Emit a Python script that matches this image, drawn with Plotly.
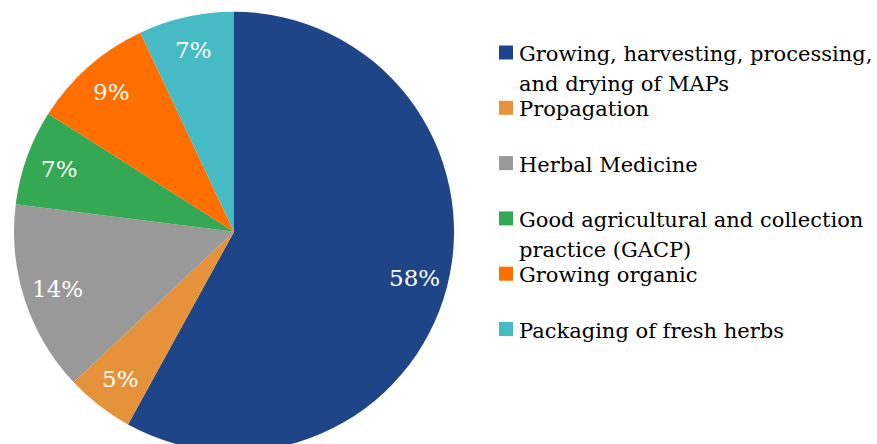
import math
import textwrap
import plotly.graph_objects as go

# Share of studies by topic (percent)
categories = [
    "Growing, harvesting, processing, and drying of MAPs",
    "Propagation",
    "Herbal Medicine",
    "Good agricultural and collection practice (GACP)",
    "Growing organic",
    "Packaging of fresh herbs",
]
shares = [58, 5, 14, 7, 9, 7]
colors = ["#1E4588", "#E5923A", "#999999", "#35A853", "#FF6F00", "#46BBC6"]

W, H = 877, 452
FONT = "DejaVu Serif"

# pie geometry in pixels
cx, cy, R = 234.0, 231.7, 220.0
dom_x = [(cx - R) / W, (cx + R) / W]
dom_y = [1 - (cy + R) / H, 1 - (cy - R) / H]

fig = go.Figure(
    go.Pie(
        labels=categories,
        values=shares,
        marker=dict(colors=colors, line=dict(width=0)),
        sort=False,
        direction="clockwise",
        rotation=0,
        textinfo="none",
        showlegend=False,
        domain=dict(x=dom_x, y=dom_y),
    )
)

annotations = []
shapes = []

# percentage labels at the middle angle of each slice
total = sum(shares)
cum = 0.0
for v in shares:
    mid = (cum + v / 2) / total * 2 * math.pi
    cum += v
    r = 0.845 * R
    px = cx + r * math.sin(mid)
    py = cy - r * math.cos(mid)
    annotations.append(dict(
        x=px / W, y=1 - py / H, xref="paper", yref="paper",
        text=f"{v}%", showarrow=False, xanchor="center", yanchor="middle",
        font=dict(family=FONT, size=23, color="white"),
    ))

# legend: colour squares with wrapped labels
sq = 14
leg_x0 = 499
first_y, step, line_gap = 52.5, 55.3, 30.0
text_drop = 1.5
for i, (lab, col) in enumerate(zip(categories, colors)):
    yc = first_y + i * step
    shapes.append(dict(
        type="rect", xref="paper", yref="paper",
        x0=leg_x0 / W, x1=(leg_x0 + sq) / W,
        y0=1 - (yc + sq / 2) / H, y1=1 - (yc - sq / 2) / H,
        fillcolor=col, line=dict(width=0),
    ))
    for j, line in enumerate(textwrap.wrap(lab, 32)):
        ty = yc + text_drop + j * line_gap
        annotations.append(dict(
            x=(leg_x0 + sq + 5) / W, y=1 - ty / H, xref="paper", yref="paper",
            text=line, showarrow=False, xanchor="left", yanchor="middle",
            font=dict(family=FONT, size=21, color="black"),
            borderpad=0,
        ))

fig.update_layout(
    width=W, height=H,
    margin=dict(l=0, r=0, t=0, b=0),
    paper_bgcolor="white",
    plot_bgcolor="white",
    font=dict(family=FONT),
    annotations=annotations,
    shapes=shapes,
)

fig.write_html("out.html")
